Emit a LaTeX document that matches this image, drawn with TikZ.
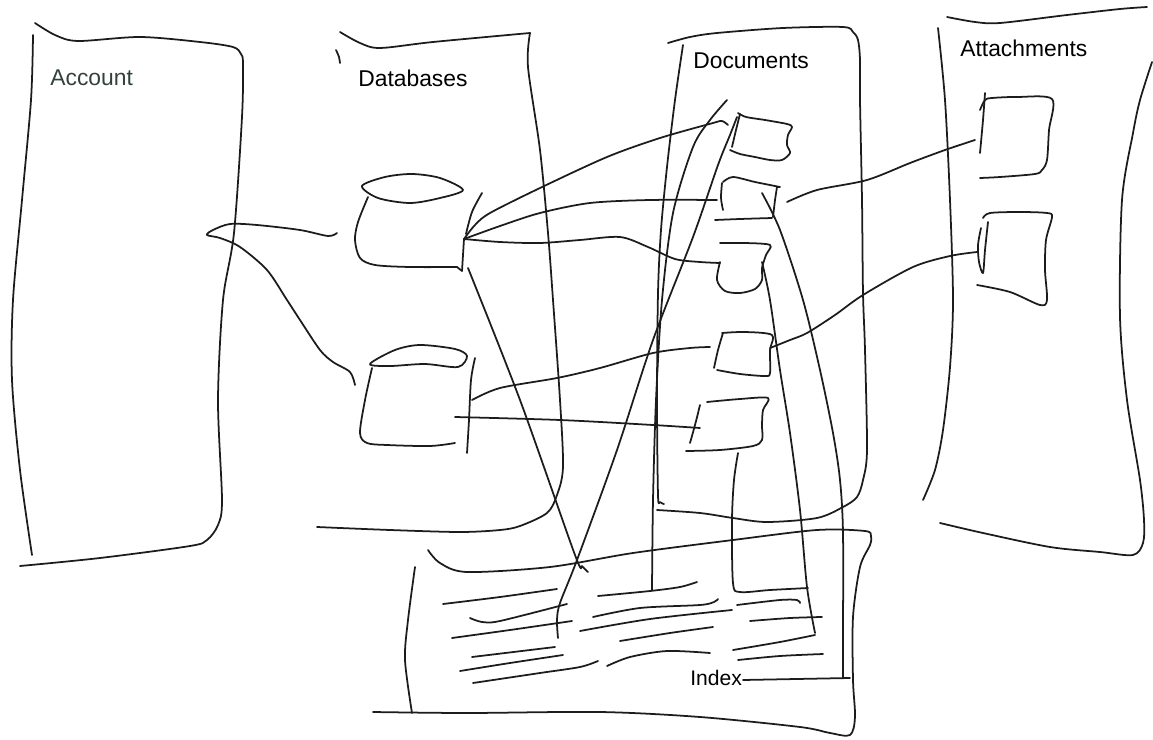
\documentclass[tikz,border=0pt]{standalone}
\usepackage{fontspec}
\setmainfont{Liberation Sans}
\usetikzlibrary{positioning}
\definecolor{ink}{RGB}{28,28,28}
\definecolor{acctink}{RGB}{50,66,56}

\tikzset{
  stroke/.style={ink,line width=1pt,line cap=round,line join=round},
  panetitle/.style={font=\fontsize{13}{15}\selectfont,anchor=base west,inner sep=0pt},
}

\begin{document}
\begin{tikzpicture}[x=0.02cm,y=-0.02cm]
  \useasboundingbox (0,0) rectangle (1153,740);

  % titles
  \node[panetitle,acctink] (account) at (50,86) {Account};
  \node[panetitle] (databases) at (358,87) {Databases};
  \node[panetitle] (documents) at (693,69) {Documents};
  \node[panetitle] (attachments) at (960,57) {Attachments};
  \node[panetitle,font=\fontsize{12}{14}\selectfont] (index) at (690,685) {Index};

  % hooks where the connectors meet
  \coordinate (hub) at (464,239);
  \coordinate (dbTwoA) at (472,400);
  \coordinate (dbTwoB) at (455,417);

  % Account pane
  \draw[stroke] plot[smooth] coordinates {(35,23) (55,35) (78,41) (140,37) (200,42) (233,47) (241,54) (243,64)
    (242,117) (234,233) (223,300) (218,400) (222,500) (218,525) (207,540) (190,546) (100,558) (20,566)};
  \draw[stroke] plot[smooth] coordinates {(33,35) (31,100) (22,200) (13,300) (12,380) (20,470) (32,555)};

  % Databases pane
  \draw[stroke] plot[smooth] coordinates {(340,32) (360,43) (380,48) (433,42) (530,33)};
  \draw[stroke] plot[smooth] coordinates {(530,33) (528,67) (540,150) (548,233) (553,300) (560,400) (563,467)
    (557,495) (547,513) (520,526) (500,530) (460,532) (390,530) (317,527)};
  \draw[stroke] plot[smooth] coordinates {(336,50) (339,57) (340,63)};

  % database cylinders
  \draw[stroke] plot[smooth cycle] coordinates {(362,186) (385,177) (412,174) (440,178) (463,190) (440,198) (410,203) (378,198)};
  \draw[stroke] plot[smooth] coordinates {(368,197) (358,222) (355,240) (360,258) (375,265) (410,267) (457,267)} -- (462,271) -- (hub);
  \draw[stroke] plot[smooth] coordinates {(482,193) (472,212) (466,234)};
  \draw[stroke] plot[smooth cycle] coordinates {(370,364) (395,350) (420,345) (455,349) (467,356) (458,367) (425,364) (390,366)};
  \draw[stroke] plot[smooth] coordinates {(372,368) (365,400) (360,433) (367,443) (387,445) (430,446) (455,443)};
  \draw[stroke] plot[smooth] coordinates {(475,358) (471,380) (469,420) (467,453)};

  % Documents pane
  \draw[stroke] plot[smooth] coordinates {(668,43) (690,37) (717,33) (783,28) (843,27) (853,32) (858,40) (860,60)
    (860,100) (862,200) (863,293) (865,350) (867,450) (863,480) (857,497) (843,507) (817,518) (767,522) (733,518) (700,513) (657,510)};
  \draw[stroke] plot[smooth] coordinates {(683,45) (675,100) (667,167) (661,230) (658,293) (657,400) (658,495) (660,502) (664,504)};

  % document sheets
  \draw[stroke] plot[smooth] coordinates {(738,113) (746,117) (765,120) (787,124) (792,127) (788,135) (787,145) (790,153) (782,160) (770,160) (755,157) (740,154) (730,150)};
  \draw[stroke] plot[smooth] coordinates {(740,114) (736,130) (732,147)};
  \draw[stroke] plot[smooth] coordinates {(723,182) (733,177) (755,182) (780,187)} -- (777,187) -- (775,200) -- (773,217);
  \draw[stroke] plot[smooth] coordinates {(715,220) (740,219) (772,218)};
  \draw[stroke] plot[smooth] coordinates {(722,183) (721,198) (723,210)};
  \draw[stroke] plot[smooth] coordinates {(720,243) (745,243) (770,245) (766,255) (762,268) (762,280) (755,289) (740,293) (725,291) (717,280) (720,262)};
  \draw[stroke] plot[smooth] coordinates {(722,333) (745,332) (772,335) (770,350) (770,373) (765,376) (740,374) (717,370)};
  \draw[stroke] plot[smooth] coordinates {(723,333) (718,350) (714,368)};
  \draw[stroke] plot[smooth] coordinates {(707,402) (740,399) (768,398) (763,410) (762,425) (762,440) (753,446) (720,450) (686,451)};
  \draw[stroke] plot[smooth] coordinates {(700,405) (695,425) (690,443)};

  % Attachments pane
  \draw[stroke] plot[smooth] coordinates {(947,17) (975,22) (1000,23) (1067,15) (1120,9) (1147,7)};
  \draw[stroke] plot[smooth] coordinates {(1152,62) (1140,100) (1133,133) (1122,200) (1120,317) (1127,400) (1140,480) (1144,520)
    (1143,543) (1133,555) (1100,552) (1050,547) (983,533) (940,523)};
  \draw[stroke] plot[smooth] coordinates {(938,28) (945,100) (950,200) (953,300) (950,367) (943,430) (935,470) (923,500)};

  % attachment sheets
  \draw[stroke] plot[smooth] coordinates {(980,110) (985,100) (992,98) (1017,97) (1052,99) (1049,130) (1047,160) (1042,170) (1035,174) (1000,177) (980,178)};
  \draw[stroke] plot[smooth] coordinates {(985,93) (983,120) (980,153)};
  \draw[stroke] plot[smooth] coordinates {(983,218) (990,213) (1020,212) (1047,213) (1052,217) (1046,240) (1045,270) (1047,300) (1040,305) (1010,292) (977,285)};
  \draw[stroke] plot[smooth] coordinates {(988,222) (985,250) (983,273) (979,262) (978,245) (981,228)};

  % Index sheet
  \draw[stroke] plot[smooth] coordinates {(428,550) (440,563) (467,572) (550,567) (633,553) (733,540) (817,530) (865,531) (871,536)
    (870,545) (860,567) (853,617) (853,680) (855,717) (850,735) (830,733) (800,727) (700,717) (600,712) (467,713) (373,712)};
  \draw[stroke] plot[smooth] coordinates {(415,567) (408,620) (405,660) (412,713)};

  % index entries
  \draw[stroke] plot[smooth] coordinates {(443,604) (500,597) (557,589)};
  \draw[stroke] plot[smooth] coordinates {(470,618) (482,622) (500,621) (567,604)};
  \draw[stroke] plot[smooth] coordinates {(452,638) (510,630) (572,621)};
  \draw[stroke] plot[smooth] coordinates {(472,657) (555,647)};
  \draw[stroke] plot[smooth] coordinates {(460,671) (510,663) (563,655)};
  \draw[stroke] plot[smooth] coordinates {(473,683) (540,673) (580,667) (598,661)};
  \draw[stroke] plot[smooth] coordinates {(598,596) (650,591) (680,587) (697,582)};
  \draw[stroke] plot[smooth] coordinates {(593,617) (640,608) (700,605) (714,602) (718,599)};
  \draw[stroke] plot[smooth] coordinates {(580,631) (650,619) (732,610)};
  \draw[stroke] plot[smooth] coordinates {(620,641) (670,633) (713,627)};
  \draw[stroke] plot[smooth] coordinates {(607,666) (630,657) (667,651) (710,653)};
  \draw[stroke] plot[smooth] coordinates {(737,605) (780,600) (797,600) (800,603)};
  \draw[stroke] plot[smooth] coordinates {(750,621) (790,618) (822,617)};
  \draw[stroke] plot[smooth] coordinates {(733,650) (780,642) (815,635)};
  \draw[stroke] plot[smooth] coordinates {(738,660) (780,656) (823,654)};

  % connectors
  \draw[stroke] plot[smooth] coordinates {(337,233) (328,236) (300,230) (257,225) (230,224) (213,230) (207,235) (220,238)
    (240,247) (267,270) (287,300) (300,320) (320,350) (333,362) (350,372) (355,385)};
  \draw[stroke] plot[smooth] coordinates {(hub) (475,225) (490,213) (540,188) (607,157) (660,138) (713,123) (722,121) (728,125)};
  \draw[stroke] plot[smooth] coordinates {(hub) (500,226) (540,213) (590,203) (650,200) (717,200)};
  \draw[stroke] plot[smooth] coordinates {(hub) (500,242) (540,243) (580,240) (620,237) (648,247) (675,259) (700,262) (720,263)};
  \draw[stroke] plot[smooth] coordinates {(468,268) (520,400) (575,555) (582,566) (588,572)};
  \draw[stroke] plot[smooth] coordinates {(dbTwoA) (500,388) (557,378) (600,368) (653,353) (690,348) (710,347)};
  \draw[stroke] plot[smooth] coordinates {(dbTwoB) (560,420) (653,425) (700,428)};
  \draw[stroke] plot[smooth] coordinates {(558,638) (557,620) (560,603) (577,560) (617,450) (653,340) (693,237) (718,165) (730,135) (737,117)};
  \draw[stroke] plot[smooth] coordinates {(727,100) (710,120) (693,147) (673,213) (662,300) (656,400) (653,500) (652,590)};
  \draw[stroke] plot[smooth] coordinates {(762,193) (780,230) (803,300) (820,370) (833,433) (840,480) (843,533) (843,640) (843,678)};
  \draw[stroke] (850,678) -- (743,680);
  \draw[stroke] plot[smooth] coordinates {(762,262) (770,300) (780,370) (790,433) (800,510) (807,587) (815,633)};
  \draw[stroke] plot[smooth] coordinates {(738,453) (734,480) (732,520) (733,583) (740,592) (770,590) (808,588)};
  \draw[stroke] plot[smooth] coordinates {(787,202) (817,190) (867,180) (910,163) (945,150) (975,140)};
  \draw[stroke] plot[smooth] coordinates {(770,348) (790,340) (807,333) (835,315) (863,295) (913,267) (950,256) (977,252)};
\end{tikzpicture}
\end{document}
